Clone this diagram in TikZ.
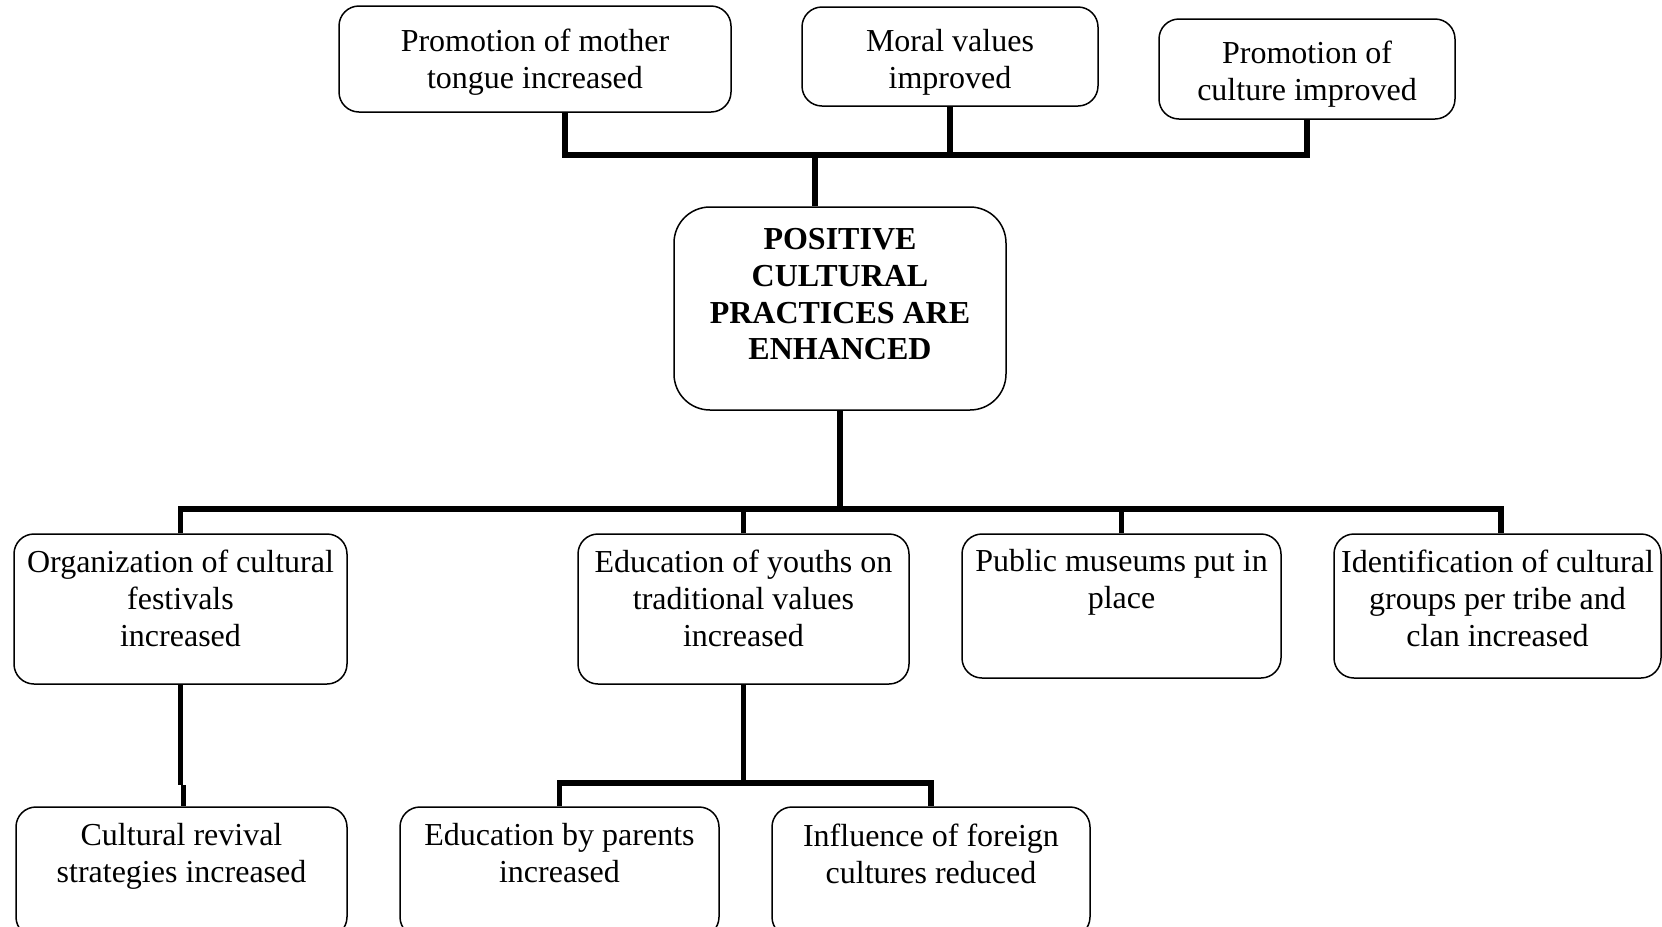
\documentclass[tikz,border=0pt]{standalone}
\usepackage{fontspec}
\setmainfont{Liberation Serif}
\begin{document}
\begin{tikzpicture}[x=0.5pt,y=-0.5pt,
  box/.style={draw, line width=0.75pt, rounded corners=10pt, inner sep=0pt},
  lbl/.style={align=center, inner sep=0pt, anchor=north, font=\fontsize{16}{18.5}\selectfont},
  conn/.style={line width=2.6pt}]
\useasboundingbox (0,0) rectangle (1662,927);
\clip (0,0) rectangle (1662,927);

% outcomes on top
\node[box, minimum width=196pt, minimum height=53pt] (A) at (535,59) {};
\node[lbl] (A-t) at ([yshift=-11.5pt]A.north) {Promotion of mother\\tongue increased};
\node[box, minimum width=148pt, minimum height=49.5pt] (B) at (950,56.5) {};
\node[lbl] (B-t) at ([yshift=-11.5pt]B.north) {Moral values\\improved};
\node[box, minimum width=148pt, minimum height=50pt] (C) at (1307,69) {};
\node[lbl] (C-t) at ([yshift=-11pt]C.north) {Promotion of\\culture improved};

% central goal
\node[box, rounded corners=18pt, minimum width=166pt, minimum height=101.5pt] (goal) at (840,308.5) {};
\node[lbl, font=\fontsize{16}{18.35}\selectfont\bfseries] (goal-t) at ([yshift=-11pt]goal.north)
  {POSITIVE\\CULTURAL\\PRACTICES ARE\\ENHANCED};

% means, second row
\node[box, minimum width=166.5pt, minimum height=75pt] (D) at (180.5,609) {};
\node[lbl] (D-t) at ([yshift=-8pt]D.north) {Organization of cultural\\festivals\\increased};
\node[box, minimum width=165.5pt, minimum height=75pt] (E) at (743.5,609) {};
\node[lbl] (E-t) at ([yshift=-8pt]E.north) {Education of youths on\\traditional values\\increased};
\node[box, minimum width=159.5pt, minimum height=72pt] (F) at (1121.5,606) {};
\node[lbl] (F-t) at ([yshift=-8pt]F.north) {Public museums put in\\place};
\node[box, minimum width=163.5pt, minimum height=72pt] (G) at (1497.5,606) {};
\node[lbl] (G-t) at ([yshift=-8pt]G.north) {Identification of cultural\\groups per tribe and\\clan increased};

% means, third row
\node[box, minimum width=165.5pt, minimum height=65pt] (H) at (181.5,872) {};
\node[lbl] (H-t) at ([yshift=-8.5pt]H.north) {Cultural revival\\strategies increased};
\node[box, minimum width=159.5pt, minimum height=65pt] (I) at (559.5,872) {};
\node[lbl] (I-t) at ([yshift=-8.5pt]I.north) {Education by parents\\increased};
\node[box, minimum width=159pt, minimum height=65pt] (J) at (931,872) {};
\node[lbl] (J-t) at ([yshift=-8.5pt]J.north) {Influence of foreign\\cultures reduced};

% connectors
\coordinate (tb) at (815,155);
\draw[conn] ([xshift=15pt]A.south) |- (tb) -| (C.south);
\draw[conn] (B.south) -- (B.south |- tb);
\draw[conn] (tb) -- (tb |- goal.north);

\coordinate (bb) at (840,509);
\draw[conn] (goal.south) -- (bb);
\draw[conn] (D.north) |- (bb) -| ([xshift=1.75pt]G.north);
\draw[conn] (E.north) -- (E.north |- bb);
\draw[conn] (F.north) -- (F.north |- bb);

\coordinate (eb) at (743.5,783);
\draw[conn] (E.south) -- (eb);
\draw[conn] (I.north) |- (eb) -| (J.north);

\coordinate (dj) at (180.5,785);
\draw[conn] (D.south) -- (dj);
\draw[conn] ([xshift=1.5pt]dj) -- ([xshift=1.5pt]dj |- H.north);
\end{tikzpicture}
\end{document}
